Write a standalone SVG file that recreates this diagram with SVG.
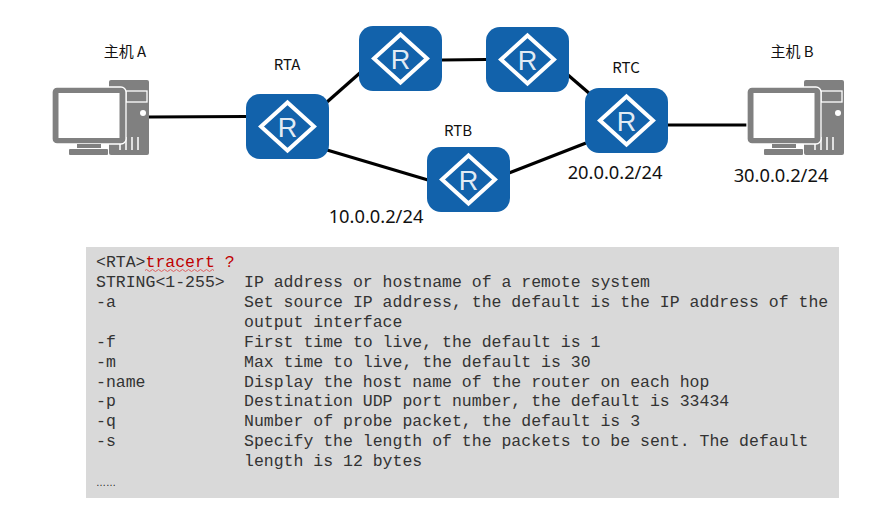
<svg xmlns="http://www.w3.org/2000/svg" width="878" height="514" viewBox="0 0 878 514">
<style>
.lbl{font-family:"Noto Sans CJK SC","Noto Sans",sans-serif;font-size:15px;fill:#111;text-anchor:middle}
.ip{font-family:"Noto Sans","Liberation Sans",sans-serif;font-size:18.300px;fill:#111;text-anchor:middle}
.c{font-family:"Liberation Mono",monospace;font-size:16.500px;fill:#333}
.r{fill:#c00000}
.link{stroke:#000;stroke-width:3.200;fill:none}
</style>
<defs>
<g id="router">
<rect width="83" height="65" rx="14" fill="#1262ab"/>
<path d="M41.500 8.500L68 32.500 41.500 56.500 15 32.500Z" fill="none" stroke="#fff" stroke-width="4"/>
<text x="41.500" y="43" text-anchor="middle" font-family="Liberation Sans,sans-serif" font-size="27" fill="#fff" fill-opacity=".9">R</text>
</g>
<g id="pc">
<rect x="57" y="0" width="40" height="75" rx="2" fill="#808080"/>
<rect x="74" y="11" width="21" height="11" fill="none" stroke="#fff" stroke-width="1.300"/>
<circle cx="91" cy="33" r="3" fill="#fff"/>
<path d="M68 57v13M74 57v13M80 57v13M86 57v13" stroke="#fff" stroke-width="1.500"/>
<rect x="0" y="7" width="74" height="57" rx="5" fill="#808080" stroke="#fff" stroke-width="1.300"/>
<rect x="6.500" y="13" width="61" height="45" fill="#fff"/>
<rect x="25" y="64" width="24" height="4" fill="#808080"/>
<rect x="17" y="69" width="39" height="6" rx="1" fill="#808080"/>
</g>
</defs>
<g id="connectors">
<path class="link" d="M149 117L246 116.500"/>
<path class="link" d="M327 102L361 72"/>
<path class="link" d="M327 150L428 180"/>
<path class="link" d="M442 60L486 59.500"/>
<path class="link" d="M568 75L590 94"/>
<path class="link" d="M509 173L586 143"/>
<path class="link" d="M668 125L748 125"/>
</g>
<g id="host-a"><use href="#pc" x="52" y="80"/><text class="lbl" x="125" y="57">主机 A</text></g>
<g id="rta"><use href="#router" x="246" y="94"/><text class="lbl" x="287" y="70">RTA</text></g>
<g id="rt-top-left"><use href="#router" x="359" y="26"/></g>
<g id="rt-top-right"><use href="#router" x="486" y="27"/></g>
<g id="rtb"><use href="#router" x="427" y="147"/><text class="lbl" x="458" y="136">RTB</text></g>
<g id="rtc"><use href="#router" x="585" y="88"/><text class="lbl" x="626" y="73">RTC</text></g>
<g id="host-b"><use href="#pc" x="747" y="80"/><text class="lbl" x="792" y="57">主机 B</text></g>
<text class="ip" x="376" y="223">10.0.0.2/24</text>
<text class="ip" x="615" y="179">20.0.0.2/24</text>
<text class="ip" x="781" y="182">30.0.0.2/24</text>
<g id="console">
<rect x="86" y="247" width="753" height="251" fill="#d9d9d9"/>
<text class="c" x="96" y="267">&lt;RTA&gt;<tspan class="r">tracert ?</tspan></text>
<path d="M145 270.500q1.500-2 3 0t3 0 3 0 3 0 3 0 3 0 3 0 3 0 3 0 3 0 3 0 3 0 3 0 3 0 3 0 3 0 3 0 3 0 3 0 3 0 3 0 3 0 3 0" fill="none" stroke="#e06060" stroke-width="1"/>
<text class="c" x="96" y="287">STRING&lt;1-255&gt;</text><text class="c" x="244" y="287">IP address or hostname of a remote system</text>
<text class="c" x="96" y="307">-a</text><text class="c" x="244" y="307">Set source IP address, the default is the IP address of the</text>
<text class="c" x="244" y="327">output interface</text>
<text class="c" x="96" y="347">-f</text><text class="c" x="244" y="347">First time to live, the default is 1</text>
<text class="c" x="96" y="367">-m</text><text class="c" x="244" y="367">Max time to live, the default is 30</text>
<text class="c" x="96" y="387">-name</text><text class="c" x="244" y="387">Display the host name of the router on each hop</text>
<text class="c" x="96" y="406">-p</text><text class="c" x="244" y="406">Destination UDP port number, the default is 33434</text>
<text class="c" x="96" y="426">-q</text><text class="c" x="244" y="426">Number of probe packet, the default is 3</text>
<text class="c" x="96" y="446">-s</text><text class="c" x="244" y="446">Specify the length of the packets to be sent. The default</text>
<text class="c" x="244" y="466">length is 12 bytes</text>
<text x="96" y="486" font-family="Liberation Sans,sans-serif" font-size="10" fill="#222">……</text>
</g>
</svg>
